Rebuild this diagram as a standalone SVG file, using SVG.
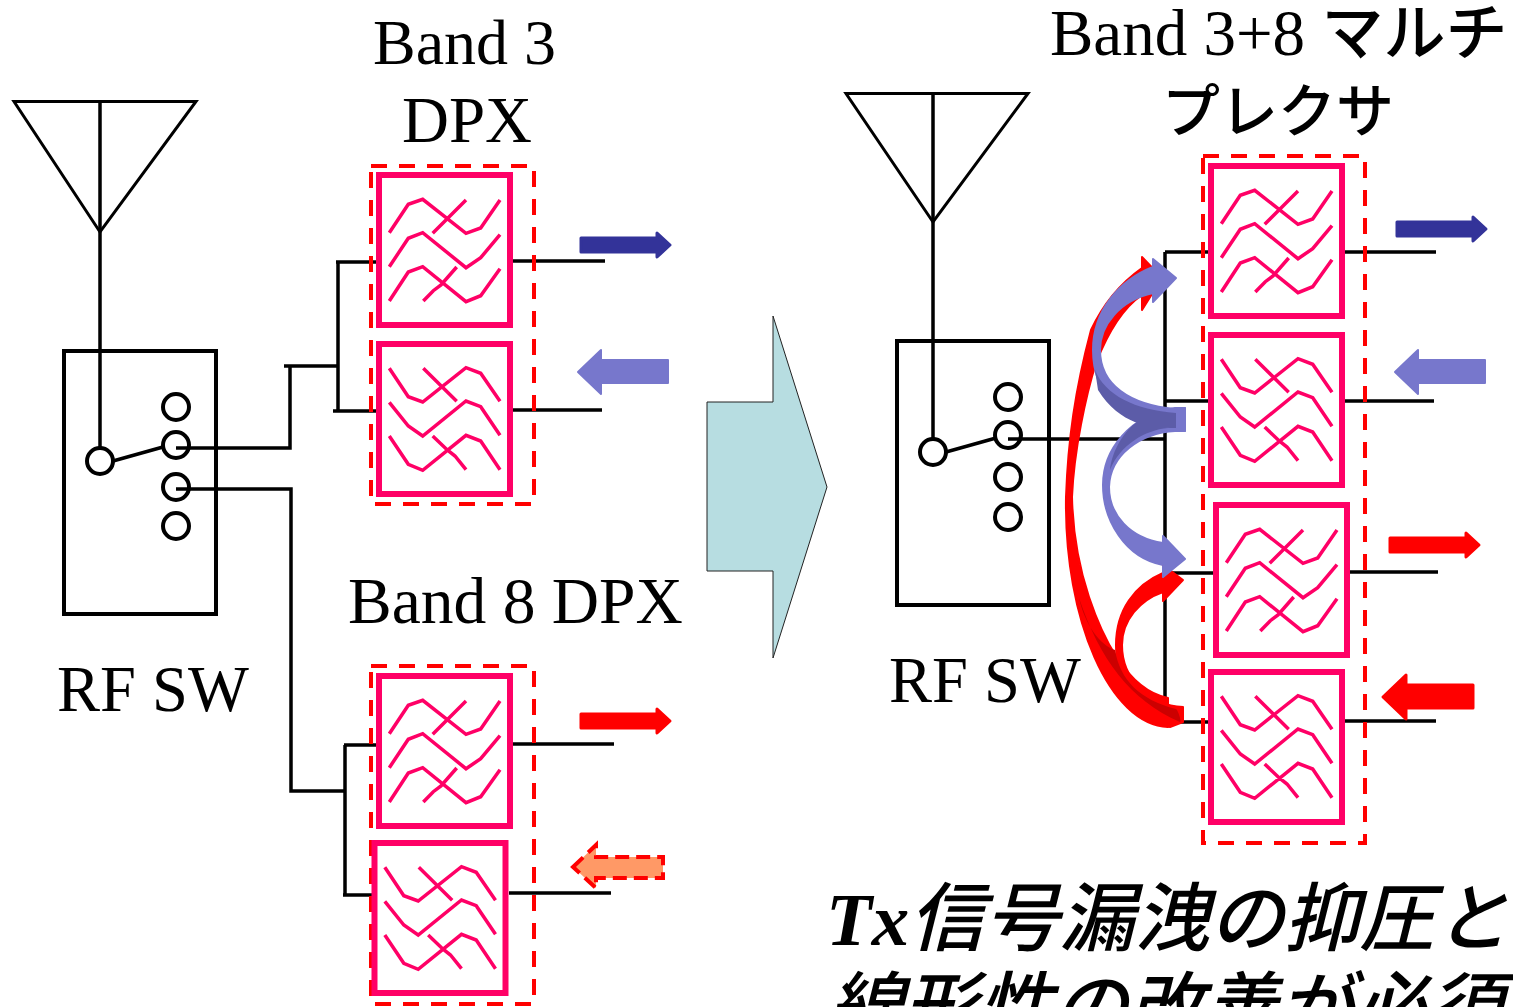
<svg xmlns="http://www.w3.org/2000/svg" xmlns:xlink="http://www.w3.org/1999/xlink" width="1513" height="1007" viewBox="0 0 1513 1007">
<style>
.t{font-family:"Liberation Serif","Noto Sans CJK JP",serif;font-size:64px;fill:#000}
.k{font-family:"Noto Sans CJK JP",sans-serif;font-weight:500}
.big{font-family:"Liberation Serif","Noto Sans CJK JP",serif;font-size:75px;font-weight:700;font-style:italic;fill:#000}
.bk{font-family:"Noto Sans CJK JP",sans-serif;font-weight:500}
.l{fill:none;stroke:#000;stroke-width:3.500}
.f{fill:#fff;stroke:#f06;stroke-width:6}
.w{fill:none;stroke:#f06;stroke-width:3.500}
.d{fill:none;stroke:#f00;stroke-width:4;stroke-dasharray:16 12}
.o{fill:none;stroke:#000;stroke-width:4}
.a{fill:none;stroke:#000;stroke-width:3}
.dk{fill:#339;stroke:#339;stroke-width:3;stroke-linejoin:round}
.lt{fill:#77c;stroke:#77c;stroke-width:2;stroke-linejoin:round}
.rd{fill:#f00;stroke:#f00;stroke-width:3;stroke-linejoin:round}
.rc{fill:#f00;stroke:#f00;stroke-width:2;stroke-linejoin:round}
</style>
<defs>
<g id="fa">
<rect class="f" width="131" height="150"/>
<path class="w" d="M10.3,57.7 29.3,29.3 43.7,24.3 87,58.3 101.7,53 121,25M53.7,58.3 87,25M10.3,91.7 29.3,63.3 43.7,57.7 87,92.7 101.7,82.7 121,59.7M10.3,126 29.3,97 43.7,91.7 87,126.7 101.7,120.7 121,93.7M44.3,126 54.3,115.7 62,110 77.7,92"/>
</g>
<g id="fb">
<rect class="f" width="131" height="150"/>
<path class="w" d="M10.3,24.3 29.3,52.7 43.7,58 87,23.7 101.7,29.3 121,57.3M44.3,24.3 77.7,57.3M10.3,58.3 29.3,82 43.7,92 87,57 101.7,62.7 121,91.3M10.3,92 29.3,120.3 43.7,126.3 87,91.3 101.700,97 121,125.7M53.7,92 68.3,106 76,112 87,125.7"/>
</g>
<path id="ar" d="M1,-7H77V-12L90,0 77,12V7H1Z"/>
<path id="al" d="M1,0 24,-22V-12H91V11H24V22Z"/>
</defs>

<g id="connectors">
<path class="l" d="M100,101V448M176,448H290V366M284,366H338M336,262H376M338,262V411M333,411H376M176,489H291V791H345M344,745H376M345,745V895M343,895H372"/>
<path class="l" d="M513,261H605M513,410H602M513,744H614M509,893H611"/>
<path class="l" d="M933,93V440M1008,439H1165M1165,252V722M1165,252H1208M1165,401H1208M1165,573H1213M1165,722H1208"/>
<path class="l" d="M1344,252H1436M1344,401H1434M1349,572H1438M1344,721H1436"/>
</g>

<g id="antenna-left"><path class="a" d="M14,101.500H196L100,232Z"/></g>
<g id="rfsw-left">
<rect class="o" x="64" y="351" width="152" height="263"/>
<path class="l" d="M113,461 163,447"/>
<circle class="o" cx="100" cy="461" r="13"/><circle class="o" cx="176" cy="407" r="13"/><circle class="o" cx="176" cy="445" r="13"/><circle class="o" cx="176" cy="487" r="13"/><circle class="o" cx="176" cy="526" r="13"/>
<text class="t" x="57" y="711" style="font-size:64.500px">RF SW</text>
</g>
<g id="band3-dpx">
<text class="t" x="373" y="64">Band 3</text><text class="t" x="402" y="142" style="font-size:65px">DPX</text>
<use xlink:href="#fa" x="379" y="175"/><use xlink:href="#fb" x="379" y="344"/>
<rect class="d" x="371" y="166" width="163" height="338"/>
</g>
<g id="band8-dpx">
<text class="t" x="348" y="623" style="font-size:65.500px">Band 8 DPX</text>
<use xlink:href="#fa" x="379" y="676"/>
<rect class="d" x="371" y="666" width="163" height="338"/>
<use xlink:href="#fb" x="374.500" y="843"/>
</g>
<g id="signal-left">
<use xlink:href="#ar" class="dk" x="580" y="245"/>
<use xlink:href="#al" class="lt" x="577" y="372"/>
<use xlink:href="#ar" class="rd" x="580" y="721"/>
<path d="M573,867 596,845V857H663V878H596V888Z" fill="#f96" stroke="#f00" stroke-width="4" stroke-dasharray="14 7"/>
</g>

<g id="transition"><path d="M707,402H773V316L827,487 773,658V571H707Z" fill="#b7dde1" stroke="#222" stroke-width="1"/></g>

<g id="antenna-right"><path class="a" d="M846,93.500H1028L933,222Z"/></g>
<g id="rfsw-right">
<rect class="o" x="897" y="341" width="152" height="264"/>
<path class="l" d="M946,452 996,438"/>
<circle class="o" cx="933" cy="452" r="13"/><circle class="o" cx="1008" cy="397" r="13"/><circle class="o" cx="1008" cy="435" r="13"/><circle class="o" cx="1008" cy="477" r="13"/><circle class="o" cx="1008" cy="517" r="13"/>
<text class="t" x="889" y="702" style="font-size:64.500px">RF SW</text>
</g>
<g id="multiplexer">
<text class="t" x="1050" y="55" style="font-size:65px">Band 3+8 <tspan class="k" font-size="62">マルチ</tspan></text>
<text class="t k" x="1278" y="132" text-anchor="middle" style="font-size:58px">プレクサ</text>
<use xlink:href="#fa" x="1211" y="166"/><use xlink:href="#fb" x="1211" y="335"/><use xlink:href="#fa" x="1216" y="505"/><use xlink:href="#fb" x="1211" y="672"/>
<rect class="d" x="1203" y="156" width="162" height="687"/>
</g>
<g id="signal-right">
<use xlink:href="#ar" class="dk" x="1396" y="229"/>
<use xlink:href="#al" class="lt" x="1394" y="372"/>
<use xlink:href="#ar" class="rd" x="1389" y="545"/>
<use xlink:href="#al" class="rd" x="1382" y="697"/>
</g>
<g id="leakage">
<path class="rc" d="M1142,268V257L1162,278 1142,310V295C1120,310 1105,340 1096,363 1086,395 1074,450 1072,497 1073,540 1080,570 1089,597 1100,630 1125,690 1168,698V727C1110,725 1064,620 1066,497 1068,440 1075,390 1091,330 1105,300 1125,280 1142,268Z"/>
<path class="rc" d="M1163,573V565L1183,580 1163,601V592C1140,600 1122,620 1122,645 1122,680 1150,705 1183,707V722L1170,727C1135,720 1116,685 1116,645 1116,610 1135,585 1163,573Z"/>
<path d="M1079,598C1100,660 1130,700 1180,722 1182,722 1178,710 1176,709 1140,700 1120,680 1115,650 1100,645 1085,625 1079,598Z" fill="#c00"/>
<path class="lt" d="M1153,267V259L1176,278 1153,302V293C1120,300 1100,325 1100,350 1100,385 1130,405 1175,409L1185,408V431H1175C1125,428 1093,395 1093,350 1093,310 1120,280 1153,267Z"/>
<path class="lt" d="M1163,543V536L1185,559 1163,577V565C1125,558 1103,520 1103,485 1103,450 1130,415 1175,408L1185,408V431H1175C1140,433 1110,455 1109,487 1109,515 1130,538 1163,543Z"/>
<path d="M1095,370C1105,395 1135,410 1176,413V428C1150,428 1120,425 1098,390ZM1137,422C1150,425 1160,428 1168,428 1145,430 1120,445 1110,470 1112,450 1125,430 1137,422Z" fill="#5c5ca8"/>
</g>
<g id="conclusion">
<text class="big" x="826" y="945">Tx<tspan class="bk">信号漏洩の抑圧と</tspan></text>
<text class="big bk" x="828" y="1034">線形性の改善が必須</text>
</g>
</svg>
